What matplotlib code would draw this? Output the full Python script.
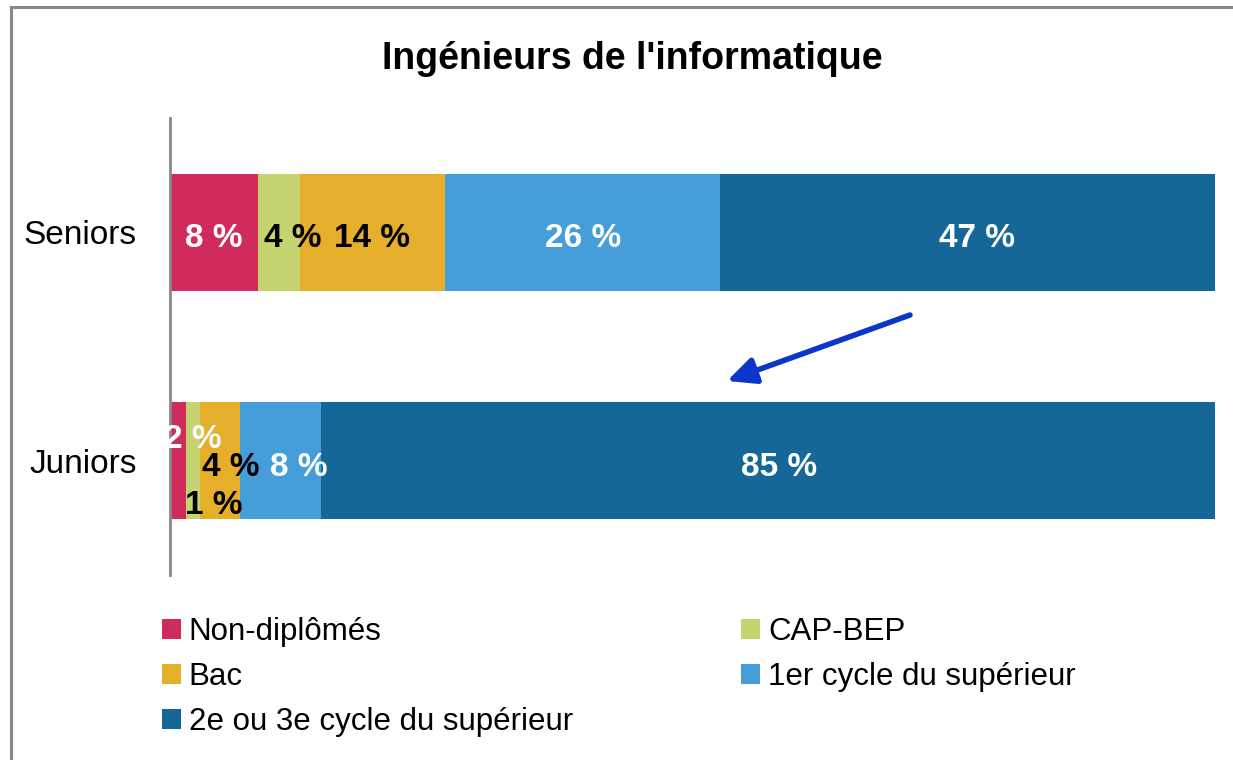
import matplotlib
matplotlib.use("Agg")
import matplotlib.pyplot as plt
from matplotlib.patches import Rectangle, Patch, FancyArrowPatch

plt.rcParams['font.family'] = ['Liberation Sans', 'DejaVu Sans']

categories = ["Juniors", "Seniors"]
levels = ["Non-diplômés", "CAP-BEP", "Bac", "1er cycle du supérieur", "2e ou 3e cycle du supérieur"]
colors = ["#D02C5B", "#C6D46F", "#E6AF2B", "#459ED9", "#156797"]
text_colors = ["white", "black", "black", "white", "white"]

juniors = [1.5, 1.4, 3.8, 7.7, 85.5]
seniors = [8.4, 4.0, 13.9, 26.3, 47.3]
juniors_labels = ["2 %", "1 %", "4 %", "8 %", "85 %"]
seniors_labels = ["8 %", "4 %", "14 %", "26 %", "47 %"]

# label nudges in pixels (dx, dy), like Excel moved them
juniors_shift = [(15, -28), (21, 39), (11, 0), (18, 0), (11, 0)]
seniors_shift = [(0, 0), (14, 0), (0, 0), (0, 0), (9, 0)]

fig = plt.figure(figsize=(12.33, 7.6), dpi=100)
ax = fig.add_axes([170 / 1233, 1 - 575 / 760, 1046 / 1233, 457 / 760])

rows = [juniors, seniors]
row_labels = [juniors_labels, seniors_labels]
row_shift = [juniors_shift, seniors_shift]
for r in range(len(categories)):
    left = 0
    for k in range(len(levels)):
        w = rows[r][k]
        ax.barh(r, w, left=left, height=0.51, color=colors[k], edgecolor="none")
        dx, dy = row_shift[r][k]
        ax.annotate(row_labels[r][k], (left + w / 2, r), xytext=(dx * 0.72, -dy * 0.72 - 4.5),
                    textcoords="offset points", ha="center", va="center",
                    fontsize=24, fontweight="bold", color=text_colors[k])
        left += w

ax.set_xlim(0, 100)
ax.set_ylim(-0.5, 1.5)
ax.set_yticks(range(len(categories)))
ax.set_yticklabels(categories, fontsize=24)
ax.tick_params(axis="y", length=0, pad=24)
ax.set_xticks([])
for s in ["top", "right", "bottom"]:
    ax.spines[s].set_visible(False)
ax.spines["left"].set_color("#888888")
ax.spines["left"].set_linewidth(2)

fig.text(0.513, 0.923, "Ingénieurs de l'informatique", ha="center", va="center",
         fontsize=27, fontweight="bold")

# arrow between the two bars
fig.patches.append(FancyArrowPatch(
    (910 / 1233, 1 - 315 / 760), (727 / 1233, 1 - 381 / 760), transform=fig.transFigure,
    arrowstyle="-|>,head_length=17,head_width=8", color="#0A36CC", lw=4,
    mutation_scale=1, shrinkA=0, shrinkB=0))

handles = [Patch(facecolor=c, edgecolor="none") for c in colors]
order = [0, 2, 4, 1, 3]
fig.legend([handles[i] for i in order], [levels[i] for i in order], ncol=2,
           loc="upper left", bbox_to_anchor=(162 / 1233, 1 - 617 / 760), frameon=False,
           fontsize=22.5, borderpad=0, handlelength=0.6, handleheight=0.6,
           handletextpad=0.25, labelspacing=0.48, columnspacing=5.4, borderaxespad=0)

fig.patches.append(Rectangle((11 / 1233, -0.05), 1.1, 1 - 7 / 760 + 0.05, transform=fig.transFigure,
                             fill=False, edgecolor="#888888", lw=2.2))

fig.savefig("out.png", dpi=100)
